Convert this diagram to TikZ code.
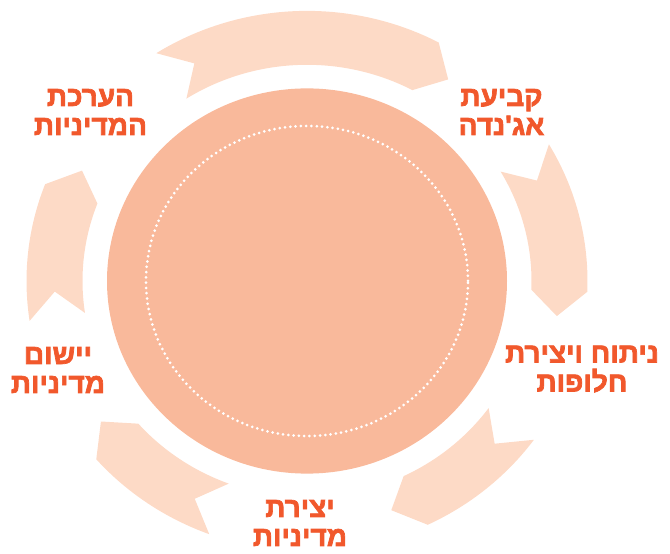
\documentclass[tikz,border=0pt]{standalone}
\usepackage{fontspec}
\TeXXeTstate=1
\newfontfamily\hebfont[Script=Hebrew, FakeBold=2.5]{Liberation Sans Bold}
\definecolor{arrowc}{RGB}{253,218,198}
\definecolor{circc}{RGB}{249,185,155}
\definecolor{textc}{RGB}{241,88,44}
\begin{document}
\begin{tikzpicture}[x=1pt,y=1pt,
  arrowband/.style={fill=arrowc, draw=none},
  discfill/.style={fill=circc, draw=none},
  dotring/.style={draw=white, line width=3pt, line cap=round, dash pattern=on 0pt off 5.3pt},
  lbl/.style={text=textc, font=\hebfont\fontsize{28}{29}\selectfont, align=center, inner sep=0pt}]
\useasboundingbox (0,0) rectangle (670,554);
\begin{scope}[shift={(307,273)}, yscale=0.963]
  \foreach \a/\b in {122.5/62, 30.4/-2.3, -36/-64.5, -110.4/-138.7, 188.5/159} {
    \fill[arrowband] (\a:280.5) arc[start angle=\a, end angle=\b, radius=280.5]
      -- ({\b-6}:252.5) -- (\b:224.5) arc[start angle=\b, end angle=\a, radius=224.5]
      -- ({\a-6}:252.5) -- cycle;
  }
  \fill[discfill] (0,0) circle[radius=200];
  \draw[dotring] (0,0) circle[radius=161];
\end{scope}
\node[lbl] (eval) at (90.5,442) {\beginR הערכת\endR\\\beginR המדיניות\endR};
\node[lbl] (agenda) at (501.5,442) {\beginR קביעת\endR\\\beginR אג'נדה\endR};
\node[lbl] (analysis) at (582,185) {\beginR ניתוח ויצירת\endR\\\beginR חלופות\endR};
\node[lbl] (create) at (300,31) {\beginR יצירת\endR\\\beginR מדיניות\endR};
\node[lbl] (impl) at (58,184) {\beginR יישום\endR\\\beginR מדיניות\endR};
\end{tikzpicture}
\end{document}
